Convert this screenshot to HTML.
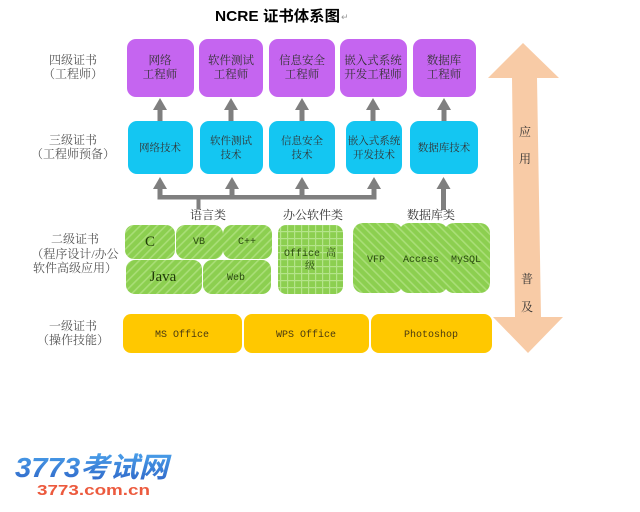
<!DOCTYPE html>
<html><head><meta charset="utf-8"><style>
html,body{margin:0;padding:0;background:#fff;}
svg{display:block;}
.l{font-family:"Liberation Serif","Noto Serif CJK SC",serif;font-size:12px;fill:#555;}
.b{font-family:"Liberation Serif","Noto Serif CJK SC",serif;fill:#333;}
.m{font-family:"Liberation Mono","Noto Serif CJK SC",monospace;font-size:10px;fill:#2a4a10;}
</style></head><body>
<svg width="640" height="512" viewBox="0 0 640 512" xmlns="http://www.w3.org/2000/svg">
<defs>
<pattern id="p1" width="6" height="6" patternUnits="userSpaceOnUse" patternTransform="rotate(45)">
<rect width="6" height="6" fill="#8CCF50"/><rect width="1.6" height="6" fill="#A9DE77"/></pattern>
<pattern id="p2" width="6" height="6" patternUnits="userSpaceOnUse" patternTransform="rotate(-45)">
<rect width="6" height="6" fill="#8CCF50"/><rect width="1.6" height="6" fill="#A9DE77"/></pattern>
<pattern id="p3" width="7" height="7" patternUnits="userSpaceOnUse">
<rect width="7" height="7" fill="#8CCF50"/><rect width="1.2" height="7" fill="#B4E48A"/><rect width="7" height="1.2" fill="#B4E48A"/></pattern>
<linearGradient id="lg" x1="0" y1="0" x2="0" y2="1"><stop offset="0" stop-color="#4AA0EA"/><stop offset="1" stop-color="#2F66C8"/></linearGradient>
</defs>

<!-- title -->
<text x="215" y="21" font-family="Liberation Sans","Noto Sans CJK SC",sans-serif font-weight="bold" font-size="15" fill="#000" textLength="125" lengthAdjust="spacingAndGlyphs" style="font-family:'Liberation Sans','Noto Sans CJK SC',sans-serif">NCRE 证书体系图</text>
<text x="341" y="20" font-size="9" fill="#999" style="font-family:'DejaVu Sans',sans-serif">↵</text>

<!-- left labels -->
<text class="l" x="73" y="64" text-anchor="middle">四级证书</text>
<text class="l" x="73" y="78" text-anchor="middle">（工程师）</text>
<text class="l" x="73" y="144" text-anchor="middle">三级证书</text>
<text class="l" x="73" y="158" text-anchor="middle">（工程师预备）</text>
<text class="l" x="75" y="243" text-anchor="middle">二级证书</text>
<text class="l" x="75" y="258" text-anchor="middle">（程序设计/办公</text>
<text class="l" x="75" y="272" text-anchor="middle">软件高级应用）</text>
<text class="l" x="73" y="330" text-anchor="middle">一级证书</text>
<text class="l" x="73" y="344" text-anchor="middle">（操作技能）</text>

<!-- purple boxes -->
<g fill="#C565F0">
<rect x="127" y="39" width="67" height="58" rx="9"/>
<rect x="199" y="39" width="64" height="58" rx="9"/>
<rect x="269" y="39" width="66" height="58" rx="9"/>
<rect x="340" y="39" width="67" height="58" rx="9"/>
<rect x="413" y="39" width="63" height="58" rx="9"/>
</g>
<g class="b" font-size="11.5" text-anchor="middle">
<text x="160" y="64">网络</text><text x="160" y="78">工程师</text>
<text x="231" y="64">软件测试</text><text x="231" y="78">工程师</text>
<text x="302" y="64">信息安全</text><text x="302" y="78">工程师</text>
<text x="373" y="64">嵌入式系统</text><text x="373" y="78">开发工程师</text>
<text x="444" y="64">数据库</text><text x="444" y="78">工程师</text>
</g>

<!-- cyan boxes -->
<g fill="#14C6F2">
<rect x="128" y="121" width="65" height="53" rx="9"/>
<rect x="200" y="121" width="63" height="53" rx="9"/>
<rect x="269" y="121" width="66" height="53" rx="9"/>
<rect x="346" y="121" width="56" height="53" rx="9"/>
<rect x="410" y="121" width="68" height="53" rx="9"/>
</g>
<g class="b" font-size="10.5" text-anchor="middle">
<text x="160" y="151">网络技术</text>
<text x="231" y="144">软件测试</text><text x="231" y="158">技术</text>
<text x="302" y="144">信息安全</text><text x="302" y="158">技术</text>
<text x="374" y="144">嵌入式系统</text><text x="374" y="158">开发技术</text>
<text x="444" y="151">数据库技术</text>
</g>

<!-- grey arrows top -->
<g fill="#7F7F7F">
<rect x="157.5" y="108" width="5" height="13"/><polygon points="153,110 167,110 160,98"/>
<rect x="228.5" y="108" width="5" height="13"/><polygon points="224,110 238,110 231,98"/>
<rect x="299.5" y="108" width="5" height="13"/><polygon points="295,110 309,110 302,98"/>
<rect x="370.5" y="108" width="5" height="13"/><polygon points="366,110 380,110 373,98"/>
<rect x="441.5" y="108" width="5" height="13"/><polygon points="437,110 451,110 444,98"/>
<!-- bottom connectors -->
<rect x="157.5" y="186" width="5" height="13"/><polygon points="153,189 167,189 160,177"/>
<rect x="229.5" y="186" width="5" height="13"/><polygon points="225,189 239,189 232,177"/>
<rect x="299.5" y="186" width="5" height="13"/><polygon points="295,189 309,189 302,177"/>
<rect x="371.5" y="186" width="5" height="13"/><polygon points="367,189 381,189 374,177"/>
<rect x="157.5" y="195" width="219" height="4.5"/>
<rect x="196.5" y="197" width="4" height="12"/>
<rect x="441" y="186" width="5" height="24"/><polygon points="436.5,189 450.5,189 443.5,177"/>
</g>

<!-- category labels -->
<g class="l" font-size="11.5" fill="#333" text-anchor="middle" style="fill:#333">
<text x="208" y="219">语言类</text>
<text x="313" y="219">办公软件类</text>
<text x="431" y="219">数据库类</text>
</g>

<!-- green boxes -->
<rect x="125" y="225" width="50" height="34" rx="9" fill="url(#p1)"/>
<rect x="176" y="225" width="47" height="34" rx="9" fill="url(#p1)"/>
<rect x="223" y="225" width="49" height="34" rx="9" fill="url(#p1)"/>
<rect x="126" y="260" width="76" height="34" rx="9" fill="url(#p1)"/>
<rect x="203" y="260" width="68" height="34" rx="9" fill="url(#p1)"/>
<rect x="278" y="225" width="65" height="69" rx="8" fill="url(#p3)"/>
<rect x="353" y="223" width="50" height="70" rx="10" fill="url(#p2)"/>
<rect x="399" y="223" width="49" height="70" rx="10" fill="url(#p2)"/>
<rect x="444" y="223" width="46" height="70" rx="10" fill="url(#p2)"/>

<text x="150" y="246" font-size="15" fill="#1f3a08" text-anchor="middle" style="font-family:'Liberation Serif',serif">C</text>
<text class="m" x="199" y="244" text-anchor="middle">VB</text>
<text class="m" x="247" y="244" text-anchor="middle">C++</text>
<text x="163" y="281" font-size="15" fill="#1f3a08" text-anchor="middle" style="font-family:'Liberation Serif',serif">Java</text>
<text class="m" x="236" y="280" text-anchor="middle">Web</text>
<text class="m" x="310" y="256" text-anchor="middle">Office 高</text>
<text class="m" x="310" y="269" text-anchor="middle">级</text>
<text class="m" x="376" y="262" text-anchor="middle">VFP</text>
<text class="m" x="421" y="262" text-anchor="middle">Access</text>
<text class="m" x="466" y="262" text-anchor="middle">MySQL</text>

<!-- yellow boxes -->
<g fill="#FFC800">
<rect x="123" y="314" width="119" height="39" rx="8"/>
<rect x="244" y="314" width="125" height="39" rx="8"/>
<rect x="371" y="314" width="121" height="39" rx="8"/>
</g>
<g class="m" text-anchor="middle" style="fill:#4a3a10">
<text x="182" y="337">MS Office</text>
<text x="306" y="337">WPS Office</text>
<text x="431" y="337">Photoshop</text>
</g>

<!-- big double arrow -->
<polygon points="523,43 559,78 537,78 541,317 563,317 528,353 493,317 515,317 512,78 488,78" fill="#F8CBA6"/>
<g class="b" font-size="12" text-anchor="middle">
<text x="525" y="136">应</text>
<text x="525" y="163">用</text>
<text x="527" y="283">普</text>
<text x="527" y="311">及</text>
</g>

<!-- logo -->
<text x="15" y="477" font-size="28" font-weight="bold" font-style="italic" fill="url(#lg)" textLength="153" lengthAdjust="spacingAndGlyphs" style="font-family:'Liberation Sans','Noto Sans CJK SC',sans-serif">3773考试网</text>
<text x="37" y="495" font-size="15" font-weight="bold" fill="#EC5A3E" textLength="113" lengthAdjust="spacingAndGlyphs" style="font-family:'Liberation Sans',sans-serif">3773.com.cn</text>
</svg>
</body></html>
